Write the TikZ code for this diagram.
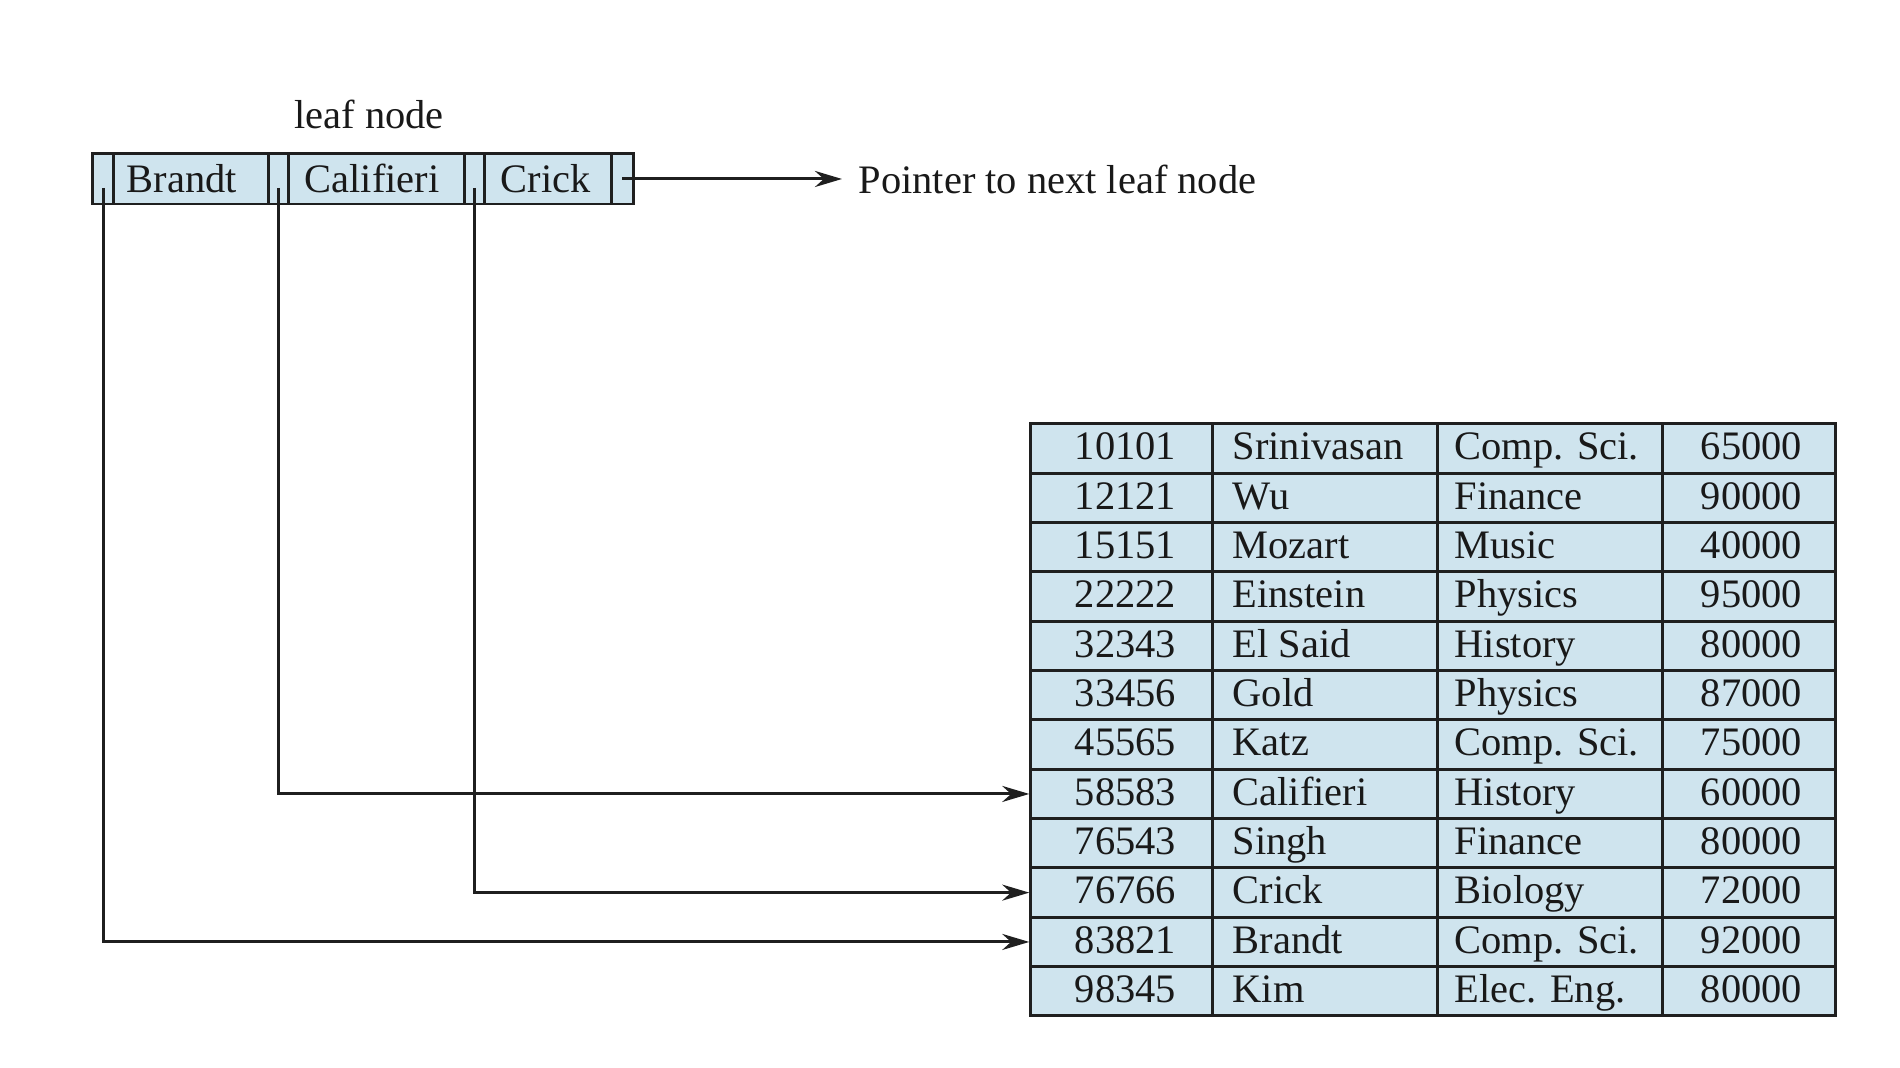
\documentclass[tikz,border=0pt]{standalone}
\usepackage{fontspec}
\setmainfont{Liberation Serif}
\usepackage{xcolor}
\usepackage{tikz}
\usetikzlibrary{arrows.meta}
\definecolor{leafblue}{RGB}{207,228,238}

\begin{document}
\begin{tikzpicture}[>={Stealth[length=0.27cm,width=0.16cm]},x=0.01cm,y=-0.01cm,
	font=\fontsize{11.5}{13}\selectfont,
	box/.style={rectangle,draw=black!88,fill=leafblue,line width=0.85pt,inner sep=0pt,minimum height=0.5cm},
	txt/.style={inner sep=0pt,text=black!90},
	link/.style={->,draw=black!88,line width=0.85pt}] % 叶节点与记录文件
	\useasboundingbox (0,0) rectangle (1900,1068);
	
	\foreach \i/\x/\w in {1/103.3/0.213cm,2/278.5/0.21cm,3/474.5/0.21cm,4/622.2/0.223cm}{
		\node[box,minimum width=\w] (p\i) at (\x,179){};
	}
	
	\foreach \i/\name/\x/\w/\tx in {1/Brandt/191/1.54cm/126,2/Califieri/376.5/1.75cm/304,3/Crick/548/1.26cm/500}{
		\node[box,minimum width=\w] (k\i) at (\x,179){};
		\node[txt,anchor=base west] (t\i) at (\tx,193){\name};
	}
	
	\node[txt,anchor=base] (lbl) at (369,129){leaf node};
	\node[txt,anchor=west,inner xsep=0.16cm,text height=8pt,text depth=0pt] 
	(nxt) at (842,179){Pointer to next leaf node};
	
	\foreach \id/\nm/\dep/\sal [count=\i] in {10101/Srinivasan/Comp. Sci./65000,
		12121/Wu/Finance/90000,15151/Mozart/Music/40000,22222/Einstein/Physics/95000,
		32343/El Said/History/80000,33456/Gold/Physics/87000,45565/Katz/Comp. Sci./75000,
		58583/Califieri/History/60000,76543/Singh/Finance/80000,76766/Crick/Biology/72000,
		83821/Brandt/Comp. Sci./92000,98345/Kim/Elec. Eng./80000}{
		\node[box,minimum width=8.04cm,minimum height=0.4933cm] 
		(r\i) at (1433,399.33+49.33*\i){};
		\node[txt,anchor=base] (id\i) at (1125.5,410.67+49.33*\i){\id};
		\node[txt,anchor=base west] (nm\i) at (1232,410.67+49.33*\i){\nm};
		\node[txt,anchor=base west] (dp\i) at (1454,410.67+49.33*\i){\dep};
		\node[txt,anchor=base] (sl\i) at (1751.5,410.67+49.33*\i){\sal};
	}
	\foreach \x in {1212,1437,1662}{
		\draw[draw=black!88,line width=0.85pt] (\x,424)--(\x,1016);} % 列分隔线
	
	\draw[link] ([yshift=-0.09cm]p1.center) |- (r11.west);
	\draw[link] ([yshift=-0.09cm]p2.center) |- (r8.west);
	\draw[link] ([yshift=-0.09cm]p3.center) |- (r10.west);
	\draw[link] (p4.center) -- (nxt.west);
\end{tikzpicture}
\end{document}
